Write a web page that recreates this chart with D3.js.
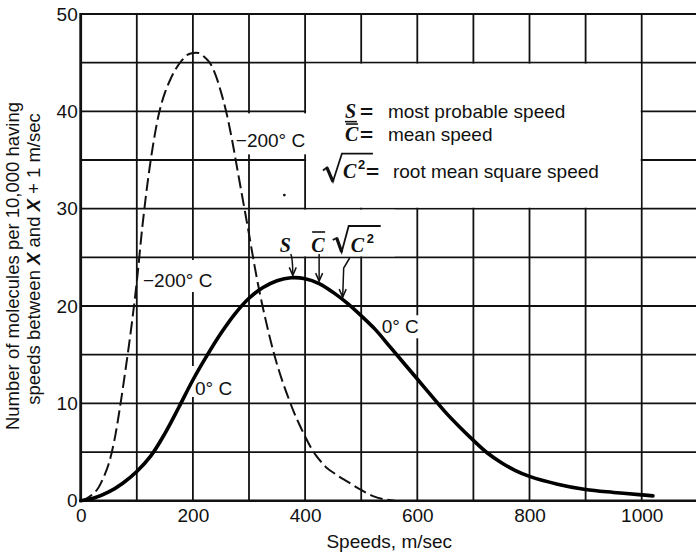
<!DOCTYPE html>
<html><head><meta charset="utf-8">
<script src="https://cdn.jsdelivr.net/npm/d3@7"></script>
<style>
html,body{margin:0;padding:0;background:#fff;}
svg{display:block;}
text{font-family:"Liberation Sans",Arial,sans-serif;fill:#111;}
</style></head><body>
<svg id="chart" width="696" height="554"></svg>
<script>
// ---- data ----
const coldSpeeds = [0,10,20,30,40,50,60,70,80,90,100,110,120,130,140,150,160,170,180,190,200,210,220,230,240,250,260,270,280,290,300,310,320,330,340,350,360,370,380,390,400,410,420,430,440,450,460,480,500,520,540,560];
const coldValues = [0,0.2,0.6,1.2,2.3,3.8,6.2,9.6,13.5,17.7,22.5,28.2,33.0,36.9,39.9,41.9,43.3,44.4,45.2,45.8,46.0,46.0,45.6,45.0,43.8,42.0,39.8,37.0,33.8,30.6,27.4,24.1,21.1,18.5,16.1,14.0,12.2,10.6,9.1,7.8,6.6,5.5,4.6,3.9,3.3,2.9,2.5,1.8,1.1,0.5,0.15,0];
const warmSpeeds = [0,25,50,75,100,125,150,175,200,225,250,275,300,325,350,375,400,425,450,475,500,525,550,575,600,625,650,675,700,725,750,775,800,850,900,950,1000,1020];
const warmValues = [0,0.3,0.9,1.8,3.0,4.6,6.9,9.6,12.4,14.9,17.2,19.2,20.8,21.9,22.6,22.9,22.8,22.3,21.4,20.3,19.0,17.6,15.9,14.2,12.5,10.8,9.1,7.6,6.2,4.9,3.9,3.1,2.5,1.7,1.15,0.85,0.6,0.5];
const xTicks = [0,200,400,600,800,1000];
const yTicks = [0,10,20,30,40,50];
const xGridValues = [100,200,300,400,500,600,700,800,900,1000,1100];
const yGridValues = [5,10,15,20,25,30,35,40,45];
const xTitle = "Speeds, m/sec";
const yTitleLines = ["Number of molecules per 10,000 having", "speeds between X and X + 1 m/sec"];
const curveLabelTexts = ["\u2212200\u00B0 C", "\u2212200\u00B0 C", "0\u00B0 C", "0\u00B0 C"];
const curveLabelSpeeds = [276.5, 111, 203.7, 536.5];
const curveLabelValues = [36.3, 21.95, 10.86, 17.2];
const legendTexts = ["most probable speed", "mean speed", "root mean square speed"];
const markerSpeeds = [378, 425, 467]; // S, C-bar, sqrt(C^2)

// ---- scales ----
const svg = d3.select("#chart");
const x = d3.scaleLinear().domain([0,1100]).range([80.7,697.8]);
const y = d3.scaleLinear().domain([0,50]).range([500.7,14]);
const ink = "#111";

const gGrid = svg.append("g");
gGrid.selectAll("line.v").data(xGridValues).join("line")
  .attr("x1", d=>x(d)).attr("x2", d=>x(d)).attr("y1", y(0)).attr("y2", y(50))
  .attr("stroke", ink).attr("stroke-width", 1.8);
gGrid.selectAll("line.h").data(yGridValues).join("line")
  .attr("x1", x(0)).attr("x2", x(1100)).attr("y1", d=>y(d)).attr("y2", d=>y(d))
  .attr("stroke", ink).attr("stroke-width", 1.8);

// legend box (white region without interior grid)
svg.append("rect").attr("x", x(400)+1).attr("y", y(45)+1)
  .attr("width", x(1000)-x(400)-2).attr("height", y(30)-y(45)-2).attr("fill", "#fff");
// knock-out behind S / C / sqrt labels
svg.append("rect").attr("x", x(300)+1.5).attr("y", y(30)+1)
  .attr("width", x(560)-x(300)-1.5).attr("height", y(25)-y(30)-2).attr("fill", "#fff");

// frame
svg.append("line").attr("x1", x(0)).attr("x2", x(1100)).attr("y1", y(50)).attr("y2", y(50)).attr("stroke", ink).attr("stroke-width", 2.2);
svg.append("line").attr("x1", x(0)).attr("x2", x(1100)).attr("y1", y(0)).attr("y2", y(0)).attr("stroke", ink).attr("stroke-width", 2.4);
svg.append("line").attr("x1", x(0)).attr("x2", x(0)).attr("y1", y(50)-1).attr("y2", y(0)+1).attr("stroke", ink).attr("stroke-width", 2.8);

// axes labels
const xa = svg.append("g").attr("transform", `translate(0,${y(0)})`)
  .call(d3.axisBottom(x).tickValues(xTicks).tickSize(0).tickPadding(8).tickFormat(d3.format("d")));
xa.select(".domain").remove();
xa.selectAll("text").style("font-size","19px").attr("fill", ink);
const ya = svg.append("g").attr("transform", `translate(${x(0)},0)`)
  .call(d3.axisLeft(y).tickValues(yTicks).tickSize(0).tickPadding(3));
ya.select(".domain").remove();
ya.selectAll("text").style("font-size","19px").attr("fill", ink);

svg.append("text").attr("x", (x(0)+x(1100))/2).attr("y", 548).attr("text-anchor","middle")
  .style("font-size","19px").text(xTitle);

// y title (two lines, with italic X)
const yt1 = svg.append("text").attr("transform","translate(19,266) rotate(-90)").attr("text-anchor","middle").style("font-size","18.5px");
yt1.text(yTitleLines[0]);
const yt2 = svg.append("text").attr("transform","translate(39.5,259) rotate(-90)").attr("text-anchor","middle").style("font-size","18.5px");
yTitleLines[1].split(/(X)/).forEach(part=>{
  if(!part) return;
  const ts = yt2.append("tspan").text(part);
  if(part==="X") ts.style("font-style","italic").style("font-weight","bold");
});

// knockout layer + curves + labels
const knock = svg.append("g");
const line = d3.line().curve(d3.curveCatmullRom.alpha(0.5));
svg.append("path").attr("d", line(coldSpeeds.map((s,i)=>[x(s), y(coldValues[i])])))
  .attr("fill","none").attr("stroke", ink).attr("stroke-width", 2).attr("stroke-dasharray","13,5");
svg.append("path").attr("d", line(warmSpeeds.map((s,i)=>[x(s), y(warmValues[i])])))
  .attr("fill","none").attr("stroke", "#000").attr("stroke-width", 3.6).attr("stroke-linecap","round");

const pads = [[17,8,3,0],[10,7,1,3],[12,2,-2,6],[1,1,1,1]]; // top,right,bottom,left
curveLabelTexts.forEach((t,i)=>{
  const tx = svg.append("text").attr("x", x(curveLabelSpeeds[i])).attr("y", y(curveLabelValues[i]))
    .style("font-size","19px").text(t);
  const b = tx.node().getBBox(); const p = pads[i];
  knock.append("rect").attr("x", b.x-p[3]).attr("y", b.y-p[0])
    .attr("width", b.width+p[1]+p[3]).attr("height", b.height+p[0]+p[2]).attr("fill","#fff");
});

// legend text block
const lx = x(471), l1 = y(39.3), l2 = y(36.95), l3 = y(33.2);
const serif = (sel)=>sel.style("font-family","'Liberation Serif','Times New Roman',serif").style("font-style","italic").style("font-weight","bold");
const eq = (ex, ey)=>svg.append("text").attr("transform", `translate(${ex},${ey}) scale(1.25,1)`)
  .style("font-size","18px").style("font-weight","bold").text("=");
serif(svg.append("text").attr("x", lx).attr("y", l1).style("font-size","20px").text("S"));
svg.append("line").attr("x1", lx).attr("x2", lx+12).attr("y1", l1+3.5).attr("y2", l1+3.5).attr("stroke", ink).attr("stroke-width",1.6);
serif(svg.append("text").attr("x", lx).attr("y", l2).style("font-size","20px").text("C"));
svg.append("line").attr("x1", lx+1).attr("x2", lx+13).attr("y1", l2-17).attr("y2", l2-17).attr("stroke", ink).attr("stroke-width",1.6);
eq(lx+15, l1); eq(lx+15, l2);
svg.append("text").attr("x", lx+43).attr("y", l1).style("font-size","19px").text(legendTexts[0]);
svg.append("text").attr("x", lx+43).attr("y", l2).style("font-size","19px").text(legendTexts[1]);
// sqrt(C^2) line
const rx = lx-22;
svg.append("path").attr("d", `M${rx},${l3-7} L${rx+4},${l3-10} L${rx+10},${l3+4} L${rx+19},${l3-24} L${rx+50},${l3-24}`)
  .attr("fill","none").attr("stroke", ink).attr("stroke-width",1.8).attr("stroke-linejoin","miter");
svg.append("path").attr("d", `M${rx+4},${l3-10} L${rx+10},${l3+4}`).attr("stroke", ink).attr("stroke-width",3.2);
serif(svg.append("text").attr("x", rx+20).attr("y", l3).style("font-size","20px").text("C"));
svg.append("text").attr("x", rx+35).attr("y", l3-9).style("font-size","13px").style("font-weight","bold").text("2");
eq(rx+43, l3);
svg.append("text").attr("x", rx+70).attr("y", l3).style("font-size","19px").text(legendTexts[2]);

// markers above the 0 deg C peak
const interp = (s)=>{ for(let i=1;i<warmSpeeds.length;i++){ if(s<=warmSpeeds[i]){const t=(s-warmSpeeds[i-1])/(warmSpeeds[i]-warmSpeeds[i-1]); return warmValues[i-1]+t*(warmValues[i]-warmValues[i-1]);}} return 0; };
const mb = 252;
serif(svg.append("text").attr("x", x(markerSpeeds[0])-13).attr("y", mb).style("font-size","20px").text("S"));
serif(svg.append("text").attr("x", x(markerSpeeds[1])-8).attr("y", mb).style("font-size","20px").text("C"));
svg.append("line").attr("x1", x(markerSpeeds[1])-7).attr("x2", x(markerSpeeds[1])+6).attr("y1", mb-20).attr("y2", mb-20).attr("stroke", ink).attr("stroke-width",1.6);
const sx = x(markerSpeeds[2])-10;
svg.append("path").attr("d", `M${sx},${mb-12} L${sx+4},${mb-14} L${sx+9},${mb} L${sx+16},${mb-26} L${sx+48},${mb-26}`)
  .attr("fill","none").attr("stroke", ink).attr("stroke-width",1.8);
svg.append("path").attr("d", `M${sx+4},${mb-14} L${sx+9},${mb}`).attr("stroke", ink).attr("stroke-width",3.2);
serif(svg.append("text").attr("x", sx+18).attr("y", mb).style("font-size","20px").text("C"));
svg.append("text").attr("x", sx+34).attr("y", mb-9).style("font-size","13px").style("font-weight","bold").text("2");

markerSpeeds.forEach((s,i)=>{
  const tx = x(s), ty = y(interp(s))-2.5;
  let d;
  if(i===0) d = `M${tx-2},${mb+2} Q${tx},${mb+6} ${tx},${ty}`;
  else if(i===1) d = `M${tx},${mb+2} L${tx},${ty}`;
  else d = `M${tx+7},${mb+6} L${tx+1},${mb+16} L${tx},${ty}`;
  svg.append("path").attr("d", d).attr("fill","none").attr("stroke", ink).attr("stroke-width",1.5);
  svg.append("path").attr("d", `M${tx-3.5},${ty-8} L${tx},${ty} L${tx+3.5},${ty-8}`).attr("fill","none").attr("stroke", ink).attr("stroke-width",1.5);
});

// small speck in the original
svg.append("circle").attr("cx", x(363)).attr("cy", y(31.4)).attr("r", 1.4).attr("fill", ink);
</script>
</body></html>
